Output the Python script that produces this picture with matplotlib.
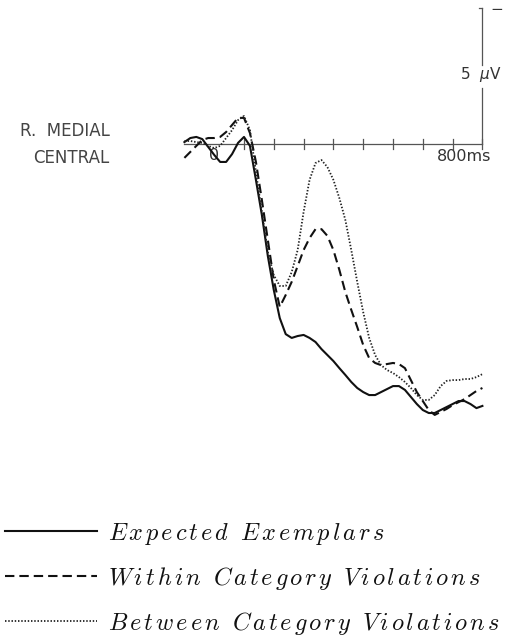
import matplotlib
matplotlib.use("Agg")
import matplotlib.pyplot as plt
import numpy as np

# ---- data (time in ms, amplitude in microvolts; negative plotted up) ----
time_ms = [-200, -180, -160, -140, -120, -100, -80, -60, -40, -20,
           0, 20, 40, 60, 80, 100, 120, 140, 160, 180,
           200, 220, 240, 260, 280, 300, 320, 340, 360, 380,
           400, 420, 440, 460, 480, 500, 520, 540, 560, 580,
           600, 620, 640, 660, 680, 700, 720, 740, 760, 780, 800]

expected = [-0.07, -0.22, -0.26, -0.18, 0.11, 0.40, 0.66, 0.66, 0.37, -0.04,
            -0.26, 0.07, 1.32, 2.61, 4.12, 5.37, 6.40, 6.99, 7.13, 7.06,
            7.02, 7.13, 7.28, 7.54, 7.76, 7.98, 8.24, 8.49, 8.75, 8.97,
            9.12, 9.23, 9.23, 9.12, 9.01, 8.90, 8.90, 9.04, 9.30, 9.56,
            9.78, 9.89, 9.89, 9.78, 9.67, 9.56, 9.45, 9.45, 9.56, 9.71, 9.63]

within = [0.51, 0.29, 0.07, -0.15, -0.22, -0.22, -0.26, -0.44, -0.70, -0.96,
          -0.96, -0.40, 0.66, 2.06, 3.53, 5.00, 5.99, 5.55, 5.07, 4.49,
          3.90, 3.46, 3.13, 3.13, 3.38, 3.90, 4.63, 5.44, 6.10, 6.73,
          7.39, 7.87, 8.05, 8.13, 8.09, 8.05, 8.09, 8.24, 8.68, 9.12,
          9.45, 9.78, 9.96, 9.85, 9.74, 9.60, 9.49, 9.38, 9.23, 9.08, 8.97]

between = [-0.11, -0.11, -0.07, -0.04, 0.07, 0.15, 0.07, -0.22, -0.51, -0.88,
           -1.03, -0.51, 1.03, 2.50, 3.97, 4.82, 5.22, 5.22, 4.71, 3.90,
           2.50, 1.32, 0.70, 0.59, 0.85, 1.32, 1.99, 2.79, 3.90, 5.07,
           6.18, 7.13, 7.76, 8.13, 8.31, 8.42, 8.57, 8.75, 8.97, 9.23,
           9.41, 9.41, 9.23, 8.90, 8.71, 8.68, 8.68, 8.64, 8.64, 8.57, 8.46]

series_labels = ["Expected Exemplars", "Within Category Violations",
                 "Between Category Violations"]
tick_times = [0, 100, 200, 300, 400, 500, 600, 700, 800]
scale_uv = -5

plt.rcParams["mathtext.fontset"] = "cm"

# ---- figure ----
W, H = 506, 639
fig = plt.figure(figsize=(W / 100, H / 100), dpi=100)
ax = fig.add_axes([0, 0, 1, 1])
# pixel mapping: x = 244 + 0.298*t ; y = 144 + 27.2*v
ax.set_xlim((0 - 244) / 0.298, (W - 244) / 0.298)
ax.set_ylim((H - 144) / 27.2, (0 - 144) / 27.2)
ax.axis("off")

axcol = "#555555"
ax.plot([time_ms[0], time_ms[-1]], [0, 0], color=axcol, lw=0.9, zorder=1)
for t in tick_times:
    ax.plot([t, t], [-0.2, 0.18], color=axcol, lw=0.9, zorder=1)
# calibration bar
ax.plot([800, 800], [scale_uv, -2.9], color=axcol, lw=0.9)
ax.plot([800, 800], [-2.06, 0], color=axcol, lw=0.9)
ax.plot([790, 800], [scale_uv, scale_uv], color=axcol, lw=0.9)
ax.text(848, -4.95, "\u2212", fontsize=11, color="#333333", ha="center", va="center")
ax.text(795, -2.55, "5  $\\mu$V", fontsize=11, color="#333333", ha="center",
        va="center", math_fontfamily="dejavusans")
ax.text(738, 0.45, "800ms", fontsize=11.5, color="#333333", ha="center", va="center")
ax.text(-100, 0.42, "0", fontsize=11.5, color="#333333", ha="center", va="center")

fig.text(110 / W, 1 - 131 / H, "R.  MEDIAL", fontsize=12, color="#444444",
         ha="right", va="center")
fig.text(109 / W, 1 - 158 / H, "CENTRAL", fontsize=12, color="#444444",
         ha="right", va="center")

l1, = ax.plot(time_ms, expected, color="#111111", lw=1.5, ls="-", zorder=3)
l2, = ax.plot(time_ms, within, color="#111111", lw=1.5, ls=(0, (4.5, 2.4)), zorder=3)
l3, = ax.plot(time_ms, between, color="#222222", lw=1.3, ls=(0, (0.8, 1.0)), zorder=3)


def tracked(s, track=0.14):
    words = []
    for w in s.split(" "):
        words.append((r"\hspace{%.3f}" % track).join(w))
    return "$" + (r"\hspace{%.3f}\ \hspace{%.3f}" % (track, track)).join(words) + "$"


math_labels = [tracked(s) for s in series_labels]
leg = fig.legend([l1, l2, l3], math_labels, loc="upper left",
                 bbox_to_anchor=(0 / W, 1 - 516 / H), frameon=False,
                 prop={"size": 17.5},
                 handlelength=3.8, handletextpad=0.45, labelspacing=0.74,
                 borderaxespad=0, borderpad=0.2)
for txt in leg.get_texts():
    txt.set_color("#111111")

fig.savefig("out.png", dpi=100)
